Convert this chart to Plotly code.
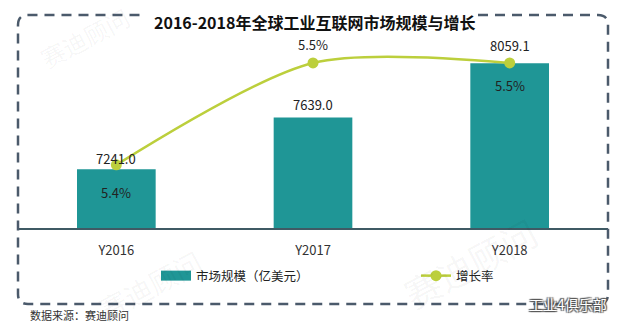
import plotly.graph_objects as go

# ---------------- data ----------------
categories = ["Y2016", "Y2017", "Y2018"]
market_size = [7241.0, 7639.0, 8059.1]          # 市场规模（亿美元）
growth_rate = [5.4, 5.5, 5.5]                   # 增长率 (%)
size_labels = ["7241.0", "7639.0", "8059.1"]
rate_labels = ["5.4%", "5.5%", "5.5%"]

# ---------------- layout helpers ----------------
W, H = 630, 331
L, R, T, B = 18, 22, 40, 103
PW, PH = W - L - R, H - T - B


def px(x):
    return (x - L) / PW


def py(y):
    return (H - B - y) / PH


FONT = "Noto Sans CJK SC, Noto Sans, sans-serif"
BAR_COLOR = "#1f9696"
LINE_COLOR = "#bccf3c"
BORDER = "#4b5a6b"

fig = go.Figure()

fig.add_trace(go.Bar(
    x=categories, y=market_size, name="市场规模（亿美元）",
    marker=dict(color=BAR_COLOR, line=dict(width=0)),
    showlegend=False, yaxis="y",
))
# legend swatch for the bars (wide rectangle like the reference)
fig.add_trace(go.Scatter(
    x=[None], y=[None], mode="lines", name="市场规模（亿美元）",
    line=dict(color=BAR_COLOR, width=12), yaxis="y", legend="legend",
))
fig.add_trace(go.Scatter(
    x=categories, y=growth_rate, name="增长率", yaxis="y2",
    mode="lines+markers",
    line=dict(color=LINE_COLOR, width=2.5, shape="spline", smoothing=0.8),
    marker=dict(color=LINE_COLOR, size=11), legend="legend2",
))

annotations = []
bar_shift = [11, 13, 18]
for c, v, t, s in zip(categories, market_size, size_labels, bar_shift):
    annotations.append(dict(x=c, y=v, xref="x", yref="y", text=t, showarrow=False,
                            yanchor="middle", yshift=s,
                            font=dict(family=FONT, size=13, color="#222")))
rate_shift = [-28, 18, -23]
for c, v, t, s in zip(categories, growth_rate, rate_labels, rate_shift):
    annotations.append(dict(x=c, y=v, xref="x", yref="y2", text=t, showarrow=False,
                            yanchor="middle", yshift=s,
                            font=dict(family=FONT, size=13, color="#222")))

# title
annotations.append(dict(x=px(314), y=py(22), xref="paper", yref="paper",
                        text="<b>2016-2018年全球工业互联网市场规模与增长</b>",
                        showarrow=False, xanchor="center", yanchor="middle",
                        font=dict(family=FONT, size=16, color="#111")))
# source
annotations.append(dict(x=px(28), y=py(315), xref="paper", yref="paper",
                        text="数据来源：赛迪顾问", showarrow=False,
                        xanchor="left", yanchor="middle",
                        font=dict(family=FONT, size=11, color="#333")))
# faint watermarks
for (wx, wy, ws) in [(85, 38, 24), (150, 285, 28), (470, 262, 36)]:
    annotations.append(dict(x=px(wx), y=py(wy), xref="paper", yref="paper",
                            text="赛迪顾问", showarrow=False, textangle=-28,
                            xanchor="center", yanchor="middle",
                            font=dict(family=FONT, size=ws, color="rgba(0,0,0,0.045)")))
annotations.append(dict(x=px(609), y=py(304), xref="paper", yref="paper",
                        text="工业4俱乐部", showarrow=False,
                        xanchor="right", yanchor="middle",
                        font=dict(family=FONT, size=14, color="#ffffff",
                                  shadow="1px 1px 1px #555, -1px -1px 1px #555, 1px -1px 1px #555, -1px 1px 1px #555")))

# rounded dashed border with gap for the title
r = 10
x0, x1, y0, y1 = 18, 608, 15, 304


def P(x, y):
    return f"{px(x):.5f},{py(y):.5f}"


path = (f"M{P(478, y0)} L{P(x1 - r, y0)} Q{P(x1, y0)} {P(x1, y0 + r)} "
        f"L{P(x1, y1 - r)} Q{P(x1, y1)} {P(x1 - r, y1)} "
        f"L{P(x0 + r, y1)} Q{P(x0, y1)} {P(x0, y1 - r)} "
        f"L{P(x0, y0 + r)} Q{P(x0, y0)} {P(x0 + r, y0)} L{P(140, y0)}")

legend_style = dict(orientation="h", yanchor="middle", y=py(276), xanchor="left",
                    font=dict(family=FONT, size=12.5, color="#222"), itemwidth=30,
                    bgcolor="rgba(0,0,0,0)")

fig.update_layout(
    width=W, height=H,
    margin=dict(l=L, r=R, t=T, b=B),
    paper_bgcolor="white", plot_bgcolor="white",
    font=dict(family=FONT, color="#333"),
    bargap=0.6,
    xaxis=dict(range=[-0.5, 2.5], showline=True, linecolor="#3f5a64", linewidth=1.5,
               ticks="", showgrid=False, zeroline=False, ticklabelstandoff=10,
               tickfont=dict(family=FONT, size=13, color="#333")),
    yaxis=dict(range=[6787, 8238], visible=False),
    yaxis2=dict(range=[5.338, 5.5225], overlaying="y", visible=False),
    showlegend=True,
    legend=dict(x=px(156), **legend_style),
    legend2=dict(x=px(416), **legend_style),
    shapes=[dict(type="path", path=path, xref="paper", yref="paper",
                 line=dict(color=BORDER, width=2.5, dash="10px,7px"), layer="above")],
    annotations=annotations,
)

fig.write_html("out.html")
